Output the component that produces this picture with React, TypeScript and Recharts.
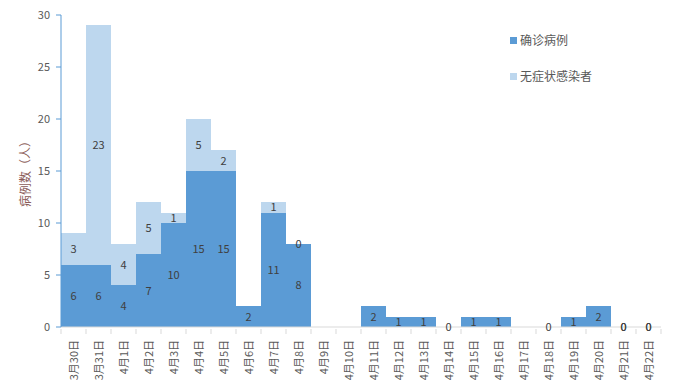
import React from 'react';
import { ComposedChart, Bar, Line, XAxis, YAxis, LabelList } from 'recharts';

const dates = [
  '3月30日', '3月31日', '4月1日', '4月2日', '4月3日', '4月4日', '4月5日', '4月6日',
  '4月7日', '4月8日', '4月9日', '4月10日', '4月11日', '4月12日', '4月13日', '4月14日',
  '4月15日', '4月16日', '4月17日', '4月18日', '4月19日', '4月20日', '4月21日', '4月22日',
];
const confirmed = [6, 6, 4, 7, 10, 15, 15, 2, 11, 8, 0, 0, 2, 1, 1, 0, 1, 1, 0, 0, 1, 2, 0, 0];
const asymptomatic = [3, 23, 4, 5, 1, 5, 2, 0, 1, 0, 0, 0, 0, 0, 0, 0, 0, 0, 0, 0, 0, 0, 0, 0];
const confirmedLabels = [6, 6, 4, 7, 10, 15, 15, 2, 11, 8, null, null, 2, 1, 1, null, 1, 1, null, null, 1, 2, 0, 0];
const asymLabels = [3, 23, 4, 5, 1, 5, 2, null, 1, 0, null, null, null, null, null, 0, null, null, null, 0, null, null, 0, 0];
const yTicks = [0, 5, 10, 15, 20, 25, 30];

const data = dates.map((d, i) => ({
  date: d,
  confirmed: confirmed[i],
  asymptomatic: asymptomatic[i],
  cMid: confirmed[i] / 2,
  aMid: confirmed[i] + asymptomatic[i] / 2,
  cLabel: confirmedLabels[i],
  aLabel: asymLabels[i],
}));

const FONT = '"Noto Sans CJK SC", "Microsoft YaHei", sans-serif';
const DARK = '#5B9BD5';
const LIGHT = '#BDD7EE';

const PointLabel = (props: any) => {
  const { x, y, value } = props;
  if (value === null || value === undefined) return null;
  return (
    <text x={x} y={y} dy={4} textAnchor="middle" fontSize={11} fill="#404040" fontFamily={FONT}>
      {value}
    </text>
  );
};

const DateTick = (props: any) => {
  const { x, y, payload, index } = props;
  const band = 25;
  return (
    <g>
      <line x1={x - band / 2} y1={y - 6} x2={x - band / 2} y2={y - 1} stroke="#d9d9d9" />
      {index === dates.length - 1 && (
        <line x1={x + band / 2} y1={y - 6} x2={x + band / 2} y2={y - 1} stroke="#d9d9d9" />
      )}
      <text
        x={x}
        y={y + 5}
        transform={`rotate(-90, ${x}, ${y + 5})`}
        dy={4}
        textAnchor="end"
        fontSize={11}
        fill="#595959"
        fontFamily={FONT}
      >
        {payload.value}
      </text>
    </g>
  );
};

const LegendBox = () => (
  <g fontFamily={FONT} fontSize={12} fill="#595959">
    <rect x={510} y={37} width={7} height={7} fill={DARK} />
    <text x={520} y={45}>确诊病例</text>
    <rect x={510} y={73} width={7} height={7} fill={LIGHT} />
    <text x={520} y={81}>无症状感染者</text>
  </g>
);

export default function App() {
  return (
    <div style={{ position: 'absolute', left: 0, top: 0, width: 684, height: 390, background: '#fff' }}>
      <ComposedChart
        width={684}
        height={390}
        data={data}
        barCategoryGap={0}
        margin={{ top: 15, right: 23, bottom: 0, left: 0 }}
      >
        <XAxis
          dataKey="date"
          interval={0}
          height={63}
          tickLine={false}
          stroke="#d9d9d9"
          tick={<DateTick />}
        />
        <YAxis
          width={61}
          domain={[0, 30]}
          ticks={yTicks}
          interval={0}
          stroke="#5B9BD5"
          tickSize={5}
          tickMargin={6}
          tick={{ fontSize: 11, fill: '#595959', fontFamily: FONT }}
          label={{
            value: '病例数（人）',
            angle: -90,
            position: 'insideLeft',
            offset: 26,
            style: { fontSize: 12, fill: '#8A5C58', fontFamily: FONT, textAnchor: 'middle' },
          }}
        />
        <Bar dataKey="confirmed" stackId="a" fill={DARK} shapeRendering="crispEdges" isAnimationActive={false} />
        <Bar dataKey="asymptomatic" stackId="a" fill={LIGHT} shapeRendering="crispEdges" isAnimationActive={false} />
        <Line dataKey="cMid" stroke="none" dot={false} activeDot={false} legendType="none" isAnimationActive={false}>
          <LabelList dataKey="cLabel" content={<PointLabel />} />
        </Line>
        <Line dataKey="aMid" stroke="none" dot={false} activeDot={false} legendType="none" isAnimationActive={false}>
          <LabelList dataKey="aLabel" content={<PointLabel />} />
        </Line>
        <LegendBox />
      </ComposedChart>
    </div>
  );
}
